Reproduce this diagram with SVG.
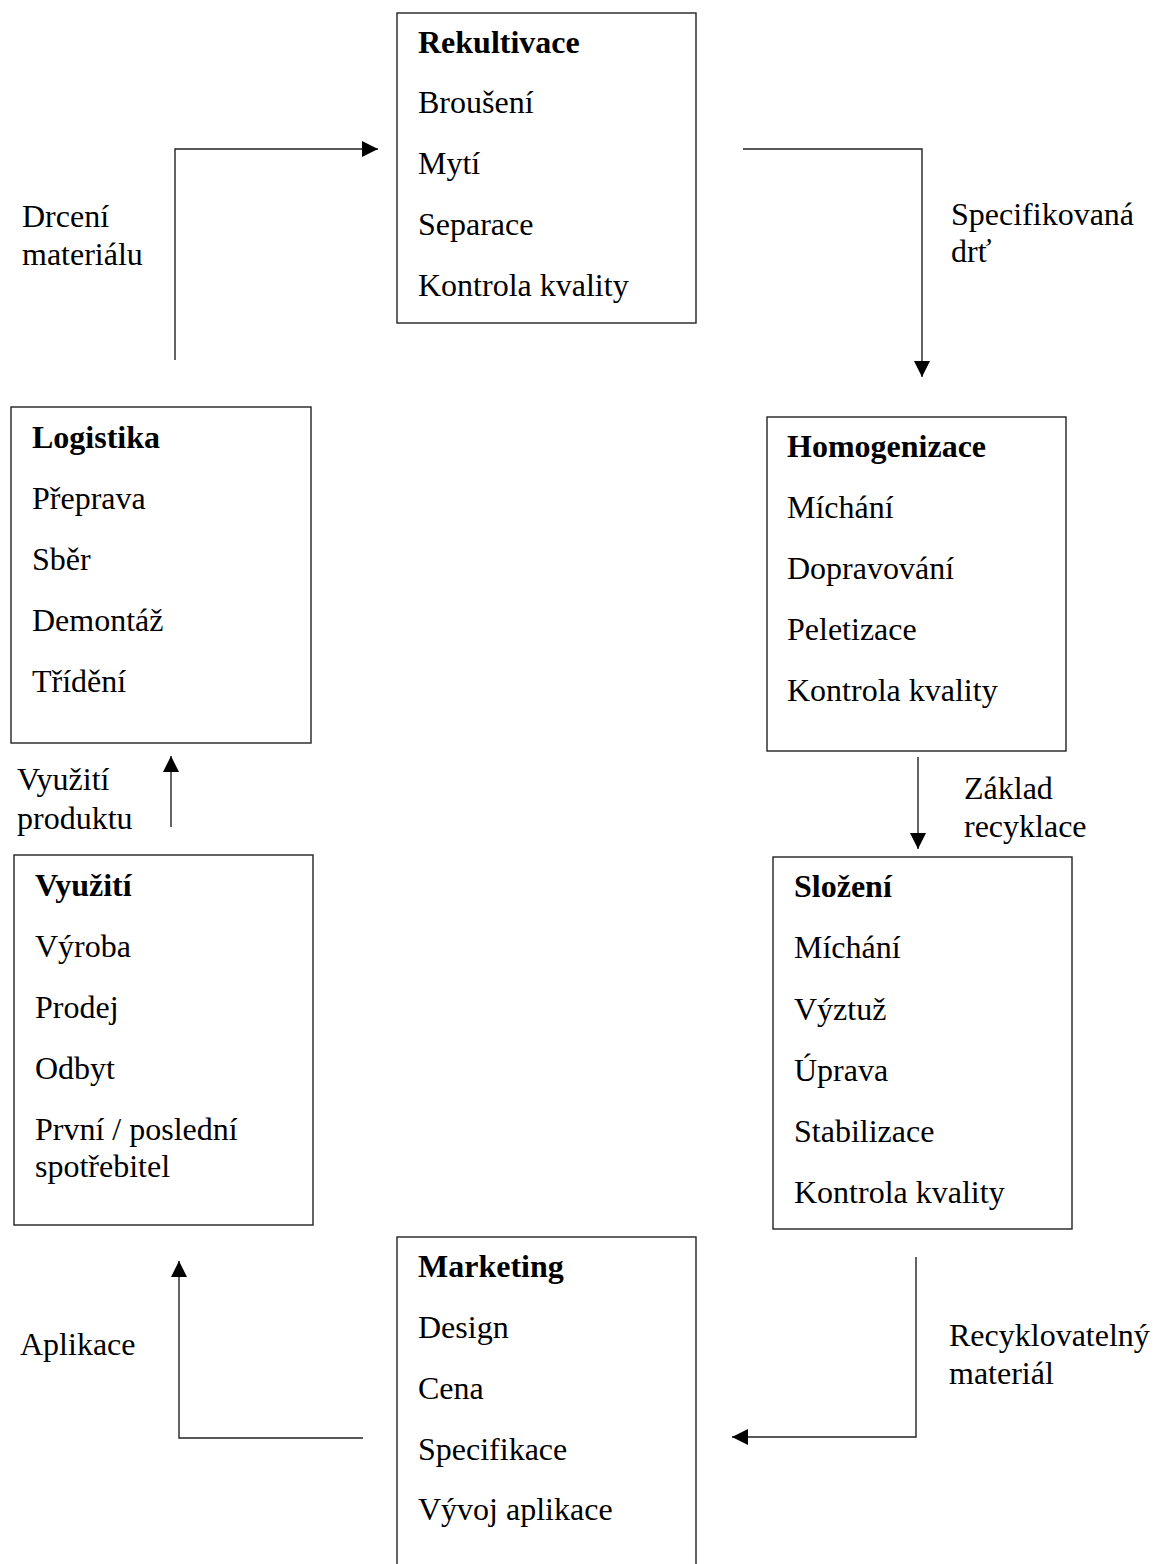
<svg xmlns="http://www.w3.org/2000/svg" width="1154" height="1564" viewBox="0 0 1154 1564">
<style>
.box{fill:#fff;stroke:#222;stroke-width:1.4}
text{font-family:"Liberation Serif","Times New Roman",serif;font-size:32px;fill:#000}
.h{font-weight:bold}
.c{fill:none;stroke:#222;stroke-width:1.4}
</style>
<defs>
<marker id="ah" markerUnits="userSpaceOnUse" markerWidth="18" markerHeight="18" refX="16" refY="8" orient="auto">
<path d="M0,0 L16,8 L0,16 z" fill="#000"/>
</marker>
</defs>
<rect width="1154" height="1564" fill="#fff"/>
<g id="connectors">
<polyline class="c" points="175,360 175,149 378,149" marker-end="url(#ah)"/>
<polyline class="c" points="743,149 922,149 922,377" marker-end="url(#ah)"/>
<polyline class="c" points="918,757 918,849" marker-end="url(#ah)"/>
<polyline class="c" points="916,1257 916,1437 732,1437" marker-end="url(#ah)"/>
<polyline class="c" points="363,1438 179,1438 179,1261" marker-end="url(#ah)"/>
<polyline class="c" points="171,827 171,756" marker-end="url(#ah)"/>
</g>
<g id="labels">
<text x="22" y="227">Drcení</text>
<text x="22" y="265">materiálu</text>
<text x="951" y="225">Specifikovaná</text>
<text x="951" y="262">drť</text>
<text x="17" y="790">Využití</text>
<text x="17" y="829">produktu</text>
<text x="964" y="799">Základ</text>
<text x="964" y="837">recyklace</text>
<text x="949" y="1346">Recyklovatelný</text>
<text x="949" y="1384">materiál</text>
<text x="20" y="1355">Aplikace</text>
</g>
<g id="rekultivace">
<rect class="box" x="397" y="13" width="299" height="310"/>
<text class="h" x="418" y="53">Rekultivace</text>
<text x="418" y="113">Broušení</text>
<text x="418" y="174">Mytí</text>
<text x="418" y="235">Separace</text>
<text x="418" y="296">Kontrola kvality</text>
</g>
<g id="logistika">
<rect class="box" x="11" y="407" width="300" height="336"/>
<text class="h" x="32" y="448">Logistika</text>
<text x="32" y="509">Přeprava</text>
<text x="32" y="570">Sběr</text>
<text x="32" y="631">Demontáž</text>
<text x="32" y="692">Třídění</text>
</g>
<g id="homogenizace">
<rect class="box" x="767" y="417" width="299" height="334"/>
<text class="h" x="787" y="457">Homogenizace</text>
<text x="787" y="518">Míchání</text>
<text x="787" y="579">Dopravování</text>
<text x="787" y="640">Peletizace</text>
<text x="787" y="701">Kontrola kvality</text>
</g>
<g id="vyuziti">
<rect class="box" x="14" y="855" width="299" height="370"/>
<text class="h" x="35" y="896">Využití</text>
<text x="35" y="957">Výroba</text>
<text x="35" y="1018">Prodej</text>
<text x="35" y="1079">Odbyt</text>
<text x="35" y="1140">První / poslední</text>
<text x="35" y="1177">spotřebitel</text>
</g>
<g id="slozeni">
<rect class="box" x="773" y="857" width="299" height="372"/>
<text class="h" x="794" y="897">Složení</text>
<text x="794" y="958">Míchání</text>
<text x="794" y="1020">Výztuž</text>
<text x="794" y="1081">Úprava</text>
<text x="794" y="1142">Stabilizace</text>
<text x="794" y="1203">Kontrola kvality</text>
</g>
<g id="marketing">
<rect class="box" x="397" y="1237" width="299" height="340"/>
<text class="h" x="418" y="1277">Marketing</text>
<text x="418" y="1338">Design</text>
<text x="418" y="1399">Cena</text>
<text x="418" y="1460">Specifikace</text>
<text x="418" y="1520">Vývoj aplikace</text>
</g>
</svg>
